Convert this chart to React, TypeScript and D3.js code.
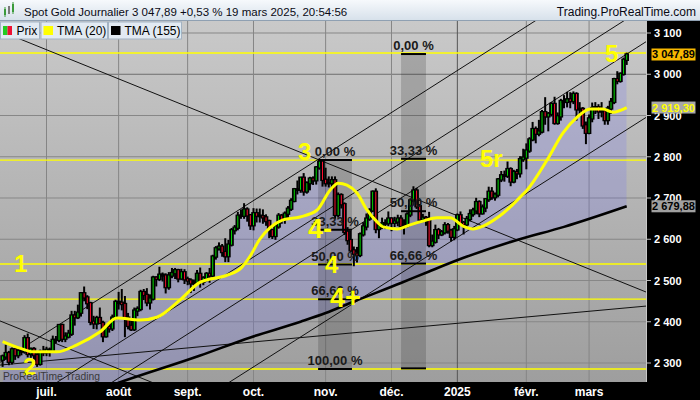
import * as d3 from "d3";

// ---- price data (daily, 11 juin 2024 -> 19 mars 2025) ----
const opens = [
  2308, 2316, 2324, 2303, 2333, 2319, 2329, 2328, 2360, 2322, 2334, 2319, 2298, 2327,
  2326, 2332, 2330, 2356, 2356, 2392, 2359, 2364, 2371, 2415, 2411, 2422, 2469, 2459, 2445, 2400, 2396, 2409, 2397, 2365, 2387, 2384, 2410,
  2448, 2446, 2443, 2410, 2390, 2382, 2427, 2431, 2472, 2465, 2447, 2456, 2507, 2504, 2514, 2512, 2484, 2512, 2518, 2525, 2505, 2520,
  2503, 2500, 2493, 2495, 2516, 2497, 2506, 2516, 2512, 2558, 2578, 2582, 2569, 2559, 2587, 2622, 2628, 2657, 2657, 2672, 2658,
  2634, 2663, 2657, 2656, 2653, 2644, 2622, 2608, 2631, 2657, 2649, 2662, 2674, 2693, 2721, 2720, 2749, 2716, 2736, 2747, 2743, 2774, 2788,
  2744, 2736, 2736, 2743, 2659, 2707, 2685, 2618, 2598, 2573, 2565, 2562, 2612, 2631, 2650, 2670, 2715, 2625, 2633, 2638, 2639,
  2650, 2640, 2643, 2650, 2632, 2633, 2660, 2694, 2718, 2680, 2648, 2652, 2646, 2586, 2594, 2622, 2612, 2617, 2634, 2621, 2606,
  2624, 2658, 2640, 2636, 2649, 2661, 2670, 2690, 2663, 2677, 2697, 2715, 2702, 2708, 2745, 2755, 2754, 2770, 2740, 2763, 2760, 2794,
  2798, 2815, 2842, 2867, 2856, 2861, 2908, 2898, 2904, 2928, 2882, 2898, 2935, 2933, 2939, 2935, 2952, 2915, 2916, 2876,
  2858, 2893, 2918, 2920, 2910, 2910, 2889, 2917, 2933, 2988, 2984, 3001, 3035,
];
const highs = [
  2318, 2342, 2327, 2335, 2334, 2333, 2334, 2365, 2369, 2335, 2336, 2322, 2330, 2339,
  2337, 2335, 2364, 2363, 2392, 2393, 2372, 2378, 2424, 2424, 2439, 2469, 2483, 2462, 2446, 2412, 2412, 2432, 2400, 2390, 2392, 2415, 2451,
  2470, 2477, 2460, 2419, 2403, 2432, 2435, 2475, 2477, 2479, 2464, 2509, 2508, 2531, 2517, 2515, 2518, 2528, 2528, 2526, 2526, 2525,
  2507, 2503, 2500, 2523, 2529, 2508, 2518, 2528, 2560, 2581, 2590, 2586, 2600, 2596, 2625, 2632, 2664, 2670, 2685, 2675, 2659,
  2673, 2672, 2672, 2670, 2658, 2645, 2623, 2635, 2661, 2659, 2665, 2678, 2697, 2722, 2740, 2749, 2758, 2738, 2749, 2750, 2775, 2790, 2789,
  2771, 2750, 2750, 2750, 2711, 2709, 2687, 2627, 2618, 2580, 2579, 2614, 2639, 2660, 2673, 2716, 2721, 2633, 2650, 2646, 2665,
  2651, 2652, 2657, 2656, 2646, 2663, 2696, 2726, 2722, 2683, 2659, 2654, 2664, 2609, 2633, 2625, 2620, 2639, 2637, 2623, 2630,
  2660, 2665, 2642, 2654, 2670, 2674, 2698, 2692, 2682, 2697, 2725, 2724, 2711, 2746, 2763, 2764, 2786, 2772, 2766, 2768, 2799, 2817,
  2830, 2845, 2882, 2871, 2887, 2911, 2942, 2906, 2930, 2943, 2905, 2938, 2947, 2955, 2954, 2956, 2954, 2930, 2918, 2883,
  2900, 2929, 2930, 2925, 2930, 2914, 2921, 2940, 2989, 3005, 3002, 3038, 3050,
];
const lows = [
  2293, 2310, 2297, 2299, 2310, 2314, 2321, 2325, 2316, 2315, 2310, 2293, 2296, 2319,
  2319, 2318, 2327, 2350, 2353, 2353, 2353, 2362, 2368, 2393, 2409, 2415, 2452, 2433, 2394, 2385, 2384, 2398, 2353, 2364, 2376, 2380, 2408,
  2432, 2430, 2365, 2384, 2380, 2380, 2416, 2428, 2455, 2440, 2432, 2454, 2488, 2501, 2500, 2471, 2480, 2508, 2506, 2498, 2504, 2494,
  2491, 2472, 2477, 2491, 2485, 2491, 2500, 2497, 2508, 2553, 2575, 2560, 2547, 2547, 2585, 2614, 2624, 2652, 2652, 2645, 2625,
  2624, 2643, 2643, 2640, 2635, 2605, 2603, 2601, 2628, 2640, 2640, 2654, 2671, 2692, 2711, 2715, 2708, 2713, 2721, 2734, 2735, 2771, 2730,
  2730, 2728, 2725, 2652, 2655, 2677, 2613, 2589, 2572, 2537, 2546, 2559, 2609, 2624, 2647, 2668, 2617, 2605, 2627, 2627, 2634,
  2622, 2632, 2634, 2625, 2614, 2631, 2656, 2692, 2676, 2643, 2644, 2635, 2583, 2583, 2592, 2603, 2610, 2614, 2616, 2597, 2600,
  2622, 2635, 2614, 2633, 2646, 2657, 2663, 2656, 2662, 2668, 2693, 2698, 2696, 2704, 2741, 2742, 2751, 2731, 2738, 2748, 2752, 2790,
  2772, 2812, 2840, 2835, 2852, 2859, 2880, 2864, 2900, 2880, 2880, 2890, 2920, 2922, 2920, 2930, 2890, 2906, 2870, 2833,
  2857, 2886, 2906, 2894, 2898, 2880, 2880, 2906, 2930, 2978, 2982, 2999, 3025,
];
const closes = [
  2316, 2324, 2303, 2333, 2319, 2329, 2328, 2360, 2322, 2334, 2319, 2298, 2327, 2326,
  2332, 2330, 2356, 2356, 2392, 2359, 2364, 2371, 2415, 2411, 2422, 2469, 2459, 2445, 2400, 2396, 2409, 2397, 2365, 2387, 2384, 2410, 2448,
  2446, 2443, 2410, 2390, 2382, 2427, 2431, 2472, 2465, 2447, 2456, 2507, 2504, 2514, 2512, 2484, 2512, 2518, 2525, 2505, 2520, 2503,
  2500, 2493, 2495, 2516, 2497, 2506, 2516, 2512, 2558, 2578, 2582, 2569, 2559, 2587, 2622, 2628, 2657, 2657, 2672, 2658, 2634,
  2663, 2657, 2656, 2653, 2644, 2622, 2608, 2631, 2657, 2649, 2662, 2674, 2693, 2721, 2720, 2749, 2716, 2736, 2747, 2743, 2774, 2788, 2744,
  2736, 2736, 2743, 2659, 2707, 2685, 2618, 2598, 2573, 2565, 2562, 2612, 2631, 2650, 2670, 2715, 2625, 2633, 2638, 2639, 2650,
  2640, 2643, 2650, 2632, 2633, 2660, 2694, 2718, 2680, 2648, 2652, 2646, 2586, 2594, 2622, 2612, 2617, 2634, 2621, 2606, 2624,
  2658, 2640, 2636, 2649, 2661, 2670, 2690, 2663, 2677, 2697, 2715, 2702, 2708, 2745, 2755, 2754, 2770, 2740, 2763, 2760, 2794, 2798,
  2815, 2842, 2867, 2856, 2861, 2908, 2898, 2904, 2928, 2882, 2898, 2935, 2933, 2939, 2935, 2952, 2915, 2916, 2876, 2858,
  2893, 2918, 2920, 2910, 2910, 2889, 2917, 2933, 2988, 2984, 3001, 3035, 3047.89,
];

// moving averages (bar index, value)
const tma20Idx = [0, 5.5, 9.7, 17.3, 23.7, 31, 36.5, 43.8, 49.2, 56.6, 63, 71.6, 76, 79, 82, 85.3, 89.4, 94.8, 100.3, 104.4, 107, 109.8, 113, 116.2, 119.4, 121.3, 125.8, 129.9, 134, 138.5, 142.7, 146.8, 150, 153.2, 157.7, 161.8, 165, 167.2, 173.6, 178.7, 183.2, 187.3, 191.4, 194.6, 199];
const tma20Val = [2352, 2336, 2327, 2327, 2344, 2375, 2409, 2404, 2411, 2453, 2496, 2513, 2530, 2560, 2600, 2628, 2647, 2654, 2671, 2719, 2736, 2731, 2712, 2671, 2642, 2630, 2625, 2635, 2644, 2652, 2652, 2632, 2625, 2632, 2652, 2678, 2702, 2719, 2792, 2858, 2896, 2916, 2916, 2908, 2919.3];
const tma155Idx = [0, 20, 37, 63, 79, 95, 103, 111, 127, 136, 147, 163, 179, 199];
const tma155Val = [2150, 2205, 2252, 2318, 2362, 2400, 2421, 2446, 2494, 2522, 2555, 2596, 2630, 2679.88];

// axis
const monthLabels = ["juil.", "août", "sept.", "oct.", "nov.", "déc.", "2025", "févr.", "mars"];
const monthIndex = [14, 37, 59, 80, 103, 124, 145, 167, 187];
const yTicks = [2300, 2400, 2500, 2600, 2700, 2800, 2900, 3000, 3100];

// drawn objects
const yellowLevels = [3051.5, 2792, 2540, 2455, 2285.5];
const fibPct = [0, 33.33, 50, 66.66, 100];
const fibText = ["0,00 %", "33,33 %", "50,00 %", "66,66 %", "100,00 %"];
const fibs = [
  { i0: 100.6, i1: 111.4, hi: 2792, lo: 2285.5, last: true },
  { i0: 127.05, i1: 135, hi: 3049, lo: 2287, last: false },
];
const trendLines: [number, number, number, number][] = [
  [-0.83, 3105, 205.2, 2472],
  [-0.83, 2402, 60, 2215],
  [-0.83, 2301.7, 205.2, 3301],
  [0, 2169, 205.2, 3164],
  [0, 2084, 205.2, 3079],
  [0, 1904, 205.2, 2895.5],
  [-0.83, 2295, 205.2, 2438],
];
const waves = [
  { t: "1", i: 3.6, p: 2520, big: false },
  { t: "2", i: 6.5, p: 2271, big: false },
  { t: "3", i: 94.2, p: 2792, big: false },
  { t: "4-", i: 97.4, p: 2603, big: true },
  { t: "4", i: 102.8, p: 2518, big: false },
  { t: "4+", i: 104.4, p: 2436, big: true },
  { t: "5r", i: 152.2, p: 2775, big: false },
  { t: "5", i: 192.1, p: 3030, big: false },
];

const W = 700;
const H = 400;
const PL = 0, PR = 646, PT = 21, PB = 382;
const FONT = "'Liberation Sans', Arial, sans-serif";

const fmtTick = (v: number) => `${Math.floor(v / 1000)} ${String(v % 1000).padStart(3, "0")}`;
const fmtPrice = (v: number) => {
  const [a, b] = v.toFixed(2).split(".");
  return `${a.slice(0, a.length - 3)} ${a.slice(-3)},${b}`;
};

export default function App() {
  const x = d3.scaleLinear().domain([0, 199]).range([2.6, 626.7]);
  const y = d3.scaleLinear().domain([2300, 3100]).range([363, 33]);

  const tma20 = tma20Idx.map((v, k) => [v, tma20Val[k]] as [number, number]);
  const tma155 = tma155Idx.map((v, k) => [v, tma155Val[k]] as [number, number]);
  const curve = d3.line<[number, number]>().x((d) => x(d[0])).y((d) => y(d[1])).curve(d3.curveMonotoneX);

  const closeArea = d3.area<number>().x((_, i) => x(i)).y0(H).y1((d) => y(d))(closes) || undefined;
  const aboveTma = d3.area<[number, number]>().x((d) => x(d[0])).y0(0).y1((d) => y(d[1])).curve(d3.curveMonotoneX)(tma155) || undefined;

  return (
    <div style={{ position: "fixed", left: 0, top: 0 }}>
      <svg width={W} height={H} style={{ display: "block" }} fontFamily={FONT}>
        <defs>
          <linearGradient id="bg" x1="0" y1="0" x2="0" y2="1">
            <stop offset="0" stopColor="#c9c9c9" />
            <stop offset="1" stopColor="#9e9e9e" />
          </linearGradient>
          <linearGradient id="hdr" x1="0" y1="0" x2="0" y2="1">
            <stop offset="0" stopColor="#f6f9fc" />
            <stop offset="1" stopColor="#d6e0ea" />
          </linearGradient>
          <clipPath id="plot">
            <rect x={PL} y={PT} width={PR - PL} height={PB - PT} />
          </clipPath>
          <clipPath id="aboveTma">
            <path d={aboveTma} />
          </clipPath>
        </defs>

        <rect x={0} y={0} width={W} height={H} fill="#000" />
        <rect x={PL} y={PT} width={PR - PL} height={PB - PT} fill="url(#bg)" />

        <g clipPath="url(#plot)">
          {/* grid */}
          {yTicks.map((v) => (
            <line key={v} x1={PL} x2={PR} y1={y(v)} y2={y(v)} stroke={v === 3000 ? "#6e6e6e" : "#878787"} strokeWidth={1} />
          ))}
          {monthIndex.map((m, k) => (
            <line key={m} x1={x(m)} x2={x(m)} y1={PT} y2={PB} stroke={monthLabels[k] === "2025" ? "#555" : "#858585"} strokeWidth={1} />
          ))}

          {/* area between price and TMA(155) */}
          <path d={closeArea} fill="#6464ff" fillOpacity={0.19} clipPath="url(#aboveTma)" />

          {/* fibonacci bands */}
          {fibs.map((f, k) => (
            <rect key={k} x={x(f.i0)} width={x(f.i1) - x(f.i0)} y={y(f.hi)} height={y(f.lo) - y(f.hi)} fill="#000" fillOpacity={0.16} />
          ))}

          {/* horizontal levels */}
          {yellowLevels.map((v) => (
            <line key={v} x1={PL} x2={PR} y1={y(v)} y2={y(v)} stroke="#ffff00" strokeWidth={1.3} />
          ))}

          {/* trend lines */}
          {trendLines.map((l, k) => (
            <line key={k} x1={x(l[0])} y1={y(l[1])} x2={x(l[2])} y2={y(l[3])} stroke="#111" strokeWidth={1} />
          ))}

          {/* TMA 155 */}
          <path d={curve(tma155) || undefined} fill="none" stroke="#000" strokeWidth={2.6} />

          {/* candles */}
          {closes.map((c, i) => {
            const o = opens[i];
            const cx = x(i);
            const top = y(Math.max(o, c));
            const bot = y(Math.min(o, c));
            return (
              <g key={i}>
                <line x1={cx} x2={cx} y1={y(highs[i]) - 1} y2={y(lows[i]) + 1} stroke="#000" strokeWidth={2} />
                <rect x={cx - 2.3} width={4.6} y={top - 1.2} height={bot - top + 2.4} fill="#000" />
                {bot - top > 1 && (
                  <rect x={cx - 0.5} width={1} y={top} height={bot - top} fill={c >= o ? "#00dd00" : "#ff1030"} />
                )}
              </g>
            );
          })}

          {/* TMA 20 */}
          <path d={curve(tma20) || undefined} fill="none" stroke="#ffff00" strokeWidth={3} />

          {/* fibonacci labels */}
          {fibs.map((f, k) => {
            const x0 = x(f.i0);
            const x1 = x(f.i1);
            return (
              <g key={k}>
                {fibPct.map((p, j) => {
                  const v = f.hi - (p / 100) * (f.hi - f.lo);
                  const showText = f.last || j < fibPct.length - 1;
                  return (
                    <g key={j}>
                      <line x1={x0} x2={x1} y1={y(v)} y2={y(v)} stroke="#000" strokeWidth={2} />
                      {showText && (
                        <text x={(x0 + x1) / 2} y={y(v) - 4} textAnchor="middle" fontSize={13} fontWeight="bold" fill="#1a1a1a">
                          {fibText[j]}
                        </text>
                      )}
                    </g>
                  );
                })}
              </g>
            );
          })}

          {/* wave labels */}
          {waves.map((w) => (
            <text key={w.t} x={x(w.i)} y={y(w.p)} fontSize={w.big ? 27 : 24} fontWeight="bold" fill="#ffff00">
              {w.t}
            </text>
          ))}

          <text x={3} y={380} fontSize={10.3} fill="#3a3a3a">ProRealTime Trading</text>
        </g>

        {/* right axis */}
        <line x1={646.5} x2={646.5} y1={PT} y2={PB} stroke="#c8c8c8" />
        {yTicks.map((v) => (
          <g key={v}>
            <line x1={647} x2={651} y1={y(v)} y2={y(v)} stroke="#bbb" />
            <text x={654} y={y(v) + 4} fontSize={11} fontWeight="bold" fill="#fff">{fmtTick(v)}</text>
          </g>
        ))}
        {[
          { v: closes[closes.length - 1], bg: "#f8b800", fg: "#000" },
          { v: tma20Val[tma20Val.length - 1], bg: "#a8a8a8", fg: "#ffff00" },
          { v: tma155Val[tma155Val.length - 1], bg: "#a0a0a0", fg: "#000" },
        ].map((b) => (
          <g key={b.v}>
            <rect x={651.5} y={y(b.v) - 6} width={44} height={12} fill={b.bg} />
            <text x={673.5} y={y(b.v) + 4} textAnchor="middle" fontSize={11} fontWeight="bold" fill={b.fg}>{fmtPrice(b.v)}</text>
          </g>
        ))}

        {/* bottom axis */}
        {monthIndex.map((m, k) => (
          <text key={m} x={x(m)} y={396} textAnchor="middle" fontSize={12} fontWeight="bold" fill="#fff">
            {monthLabels[k]}
          </text>
        ))}

        {/* header */}
        <rect x={0} y={0} width={W} height={21} fill="url(#hdr)" />
        <line x1={0} x2={W} y1={20.5} y2={20.5} stroke="#8fa0b2" />
        <g>
          <rect x={4} y={9} width={2} height={6} fill="#3a9a3a" />
          <rect x={8} y={6} width={2} height={8} fill="#7a7a7a" />
          <rect x={12} y={4} width={2} height={8} fill="#3a9a3a" />
          <line x1={5} x2={5} y1={7} y2={17} stroke="#3a9a3a" />
          <line x1={13} x2={13} y1={2} y2={14} stroke="#3a9a3a" />
        </g>
        <text x={24} y={15.5} fontSize={11.5} fill="#0a0a14">Spot  Gold Journalier 3 047,89 +0,53 % 19 mars 2025, 20:54:56</text>
        <text x={696} y={15.5} textAnchor="end" fontSize={12} fill="#0a0a14">Trading.ProRealTime.com</text>

        {/* legend */}
        {[
          { x0: 0, w: 39, label: "Prix" },
          { x0: 40.5, w: 66.5, label: "TMA (20)" },
          { x0: 108, w: 73, label: "TMA (155)" },
        ].map((l, k) => (
          <g key={k}>
            <rect x={l.x0 + 0.5} y={22} width={l.w} height={17} fill="#e2eaf2" stroke="#a3b3c3" />
            {k === 0 ? (
              <g>
                <rect x={l.x0 + 3} y={26} width={4.5} height={9} fill="#22cc22" />
                <rect x={l.x0 + 7.5} y={26} width={4.5} height={9} fill="#ee1133" />
              </g>
            ) : (
              <rect x={l.x0 + 3} y={26} width={9.5} height={9} fill={k === 1 ? "#ffff00" : "#000"} />
            )}
            <text x={l.x0 + 16.5} y={35} fontSize={12} fill="#000">{l.label}</text>
          </g>
        ))}
      </svg>
    </div>
  );
}
